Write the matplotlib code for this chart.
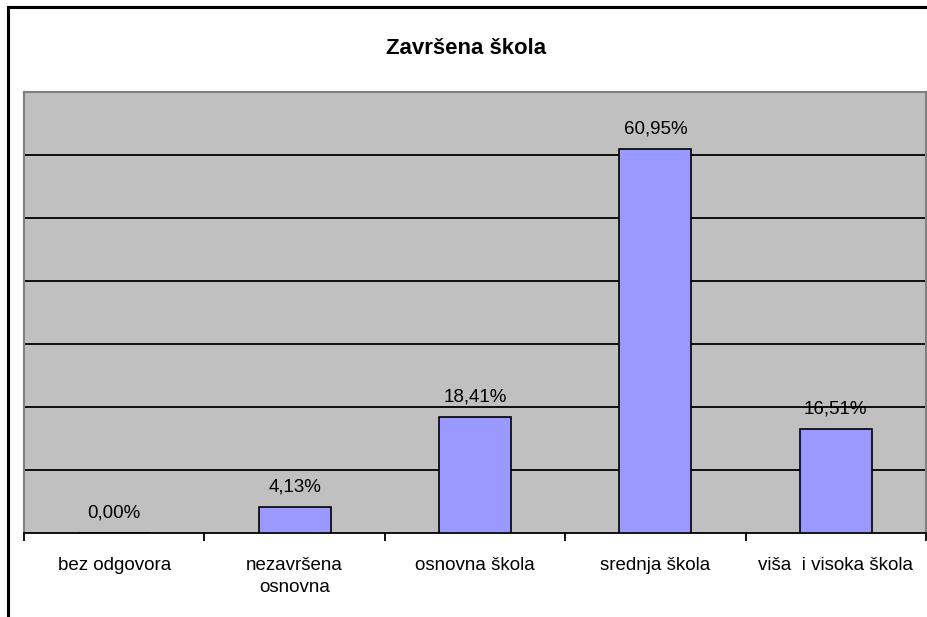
# Zavrsena skola - sloupcovy graf (styl Excel)

import matplotlib.pyplot as plt
from matplotlib.patches import Rectangle
import numpy as np

# data
kategorie = ['bez odgovora', 'nezavršena\nosnovna', 'osnovna škola', 'srednja škola', 'viša  i visoka škola']
hodnoty = [0.00, 4.13, 18.41, 60.95, 16.51]
popisky = ['0,00%', '4,13%', '18,41%', '60,95%', '16,51%']
mrizka = [10, 20, 30, 40, 50, 60]

plt.rcParams['font.family'] = ['Liberation Sans', 'DejaVu Sans']

fig = plt.figure(figsize=(9.28, 6.17), dpi=100)
# ramecek kolem celeho grafu (vpravo a dole je oriznuty)
fig.patches.append(Rectangle((8/928, -0.1), 1.2, 1 - 7/617 + 0.1, transform=fig.transFigure,
                             fill=False, edgecolor='black', linewidth=2.2))

ax = fig.add_axes([24/928, 1 - 533/617, (926 - 24)/928, (533 - 92)/617])
ax.set_facecolor('#C0C0C0')

x = np.arange(len(kategorie))
ax.bar(x, hodnoty, width=0.4, color='#9999FF', edgecolor='black', linewidth=1.2, zorder=3)

# popisky hodnot nad sloupci
for xi, v, t in zip(x, hodnoty, popisky):
    ax.annotate(t, (xi, v), xytext=(0, 11), textcoords='offset points',
                ha='center', va='baseline', fontsize=13.5, zorder=4)

for g in mrizka:
    ax.axhline(g, color='black', linewidth=1.3, zorder=1)

ax.set_xlim(-0.5, len(kategorie) - 0.5)
ax.set_ylim(0, 70)
ax.set_yticks([])

# carky na hranicich kategorii, popisky uprostred
ax.set_xticks(np.arange(-0.5, len(kategorie), 1))
ax.set_xticklabels([])
ax.tick_params(axis='x', which='major', direction='out', length=6, width=1.3, color='black')
ax.set_xticks(x, minor=True)
ax.set_xticklabels(kategorie, minor=True, fontsize=13.5, linespacing=1.45)
ax.tick_params(axis='x', which='minor', length=0, pad=17)

for s in ['top', 'left', 'right']:
    ax.spines[s].set_color('#808080')
    ax.spines[s].set_linewidth(1.5)
ax.spines['bottom'].set_color('black')
ax.spines['bottom'].set_linewidth(1.3)

fig.text(466/928, 1 - 48/617, 'Završena škola', ha='center', va='center',
         fontsize=16, fontweight='bold')

plt.savefig('out.png', dpi=100)
